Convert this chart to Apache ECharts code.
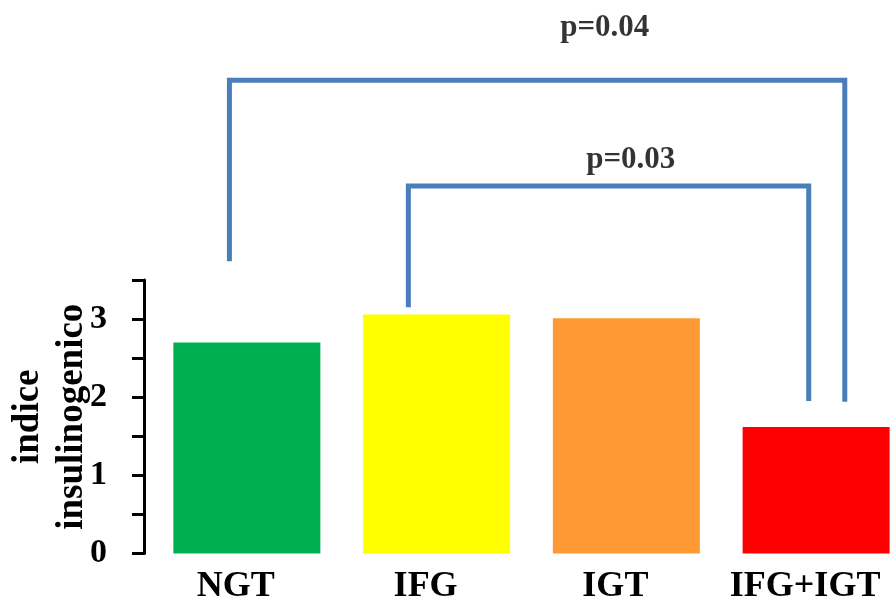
<!DOCTYPE html>
<html>
<head>
<meta charset="utf-8">
<script src="https://cdn.jsdelivr.net/npm/echarts@6/dist/echarts.min.js"></script>
<style>html,body{margin:0;padding:0;background:#fff;}#c{width:890px;height:600px;}</style>
</head>
<body>
<div id="c"></div>
<script>
const categories = ['NGT', 'IFG', 'IGT', 'IFG+IGT'];
const values = [2.70, 3.06, 3.01, 1.62];
const barColors = ['#00B050', '#FFFF00', '#FF9933', '#FF0000'];
const yAxisName = 'indice\ninsulinogenico';
// significance brackets in data units (x = category index, y = value)
const bracketOuter = [[-0.092, 3.74], [-0.092, 6.055], [3.151, 6.055], [3.151, 1.94]];
const bracketInner = [[0.851, 3.15], [0.851, 4.70], [2.961, 4.70], [2.961, 1.95]];
const pLabels = ['p=0.04', 'p=0.03'];
const pLabelX = [1.886, 2.023];
const pLabelY = [6.72, 5.03];

const serif = '"Liberation Serif", "DejaVu Serif", serif';
const chart = echarts.init(document.getElementById('c'), null, {renderer: 'canvas'});
chart.setOption({
  backgroundColor: '#ffffff',
  animation: false,
  grid: [
    {left: 152, width: 759, top: 280, height: 273.5, outerBoundsMode: 'none', containLabel: false},
    {left: 152, width: 759, top: 6.3, height: 547.2, outerBoundsMode: 'none', containLabel: false}
  ],
  xAxis: [
    {
      type: 'category', gridIndex: 0, data: categories,
      axisLine: {show: false}, axisTick: {show: false},
      axisLabel: {interval: 0, hideOverlap: false, fontFamily: serif, fontWeight: 'bold', fontSize: 36, color: '#000', margin: 15, padding: [0, 22, 0, 0]}
    },
    {type: 'value', gridIndex: 1, min: -0.5, max: 3.5, show: false}
  ],
  yAxis: [
    {
      type: 'value', gridIndex: 0, min: 0, max: 3.5, interval: 0.5, offset: 8,
      name: yAxisName, nameLocation: 'middle', nameRotate: 90, nameGap: 50, nameMoveOverlap: false,
      nameTextStyle: {fontFamily: serif, fontWeight: 'bold', fontSize: 37, lineHeight: 44, color: '#000'},
      axisLine: {show: true, lineStyle: {color: '#000', width: 3}},
      axisTick: {show: true, inside: false, length: 12, lineStyle: {color: '#000', width: 3}},
      splitLine: {show: false},
      axisLabel: {
        fontFamily: serif, fontWeight: 'bold', fontSize: 34, color: '#000', margin: 37,
        formatter: v => (Math.abs(v - Math.round(v)) < 1e-9 ? String(Math.round(v)) : '')
      }
    },
    {type: 'value', gridIndex: 1, min: 0, max: 7, show: false}
  ],
  series: [
    {
      type: 'bar', xAxisIndex: 0, yAxisIndex: 0, barWidth: 147,
      data: values.map((v, i) => ({value: v, itemStyle: {color: barColors[i]}}))
    },
    {
      type: 'line', xAxisIndex: 1, yAxisIndex: 1, data: bracketOuter, symbol: 'none', clip: false,
      lineStyle: {color: '#4A7EBB', width: 5, join: 'miter', cap: 'butt'}, silent: true
    },
    {
      type: 'line', xAxisIndex: 1, yAxisIndex: 1, data: bracketInner, symbol: 'none', clip: false,
      lineStyle: {color: '#4A7EBB', width: 5, join: 'miter', cap: 'butt'}, silent: true
    },
    {
      type: 'scatter', xAxisIndex: 1, yAxisIndex: 1, symbolSize: 0, clip: false,
      data: pLabels.map((t, i) => ({name: t, value: [pLabelX[i], pLabelY[i]]})),
      label: {show: true, position: 'inside', formatter: p => p.name, fontFamily: serif, fontWeight: 'bold', fontSize: 31, color: '#000'}
    }
  ]
});
</script>
</body>
</html>
